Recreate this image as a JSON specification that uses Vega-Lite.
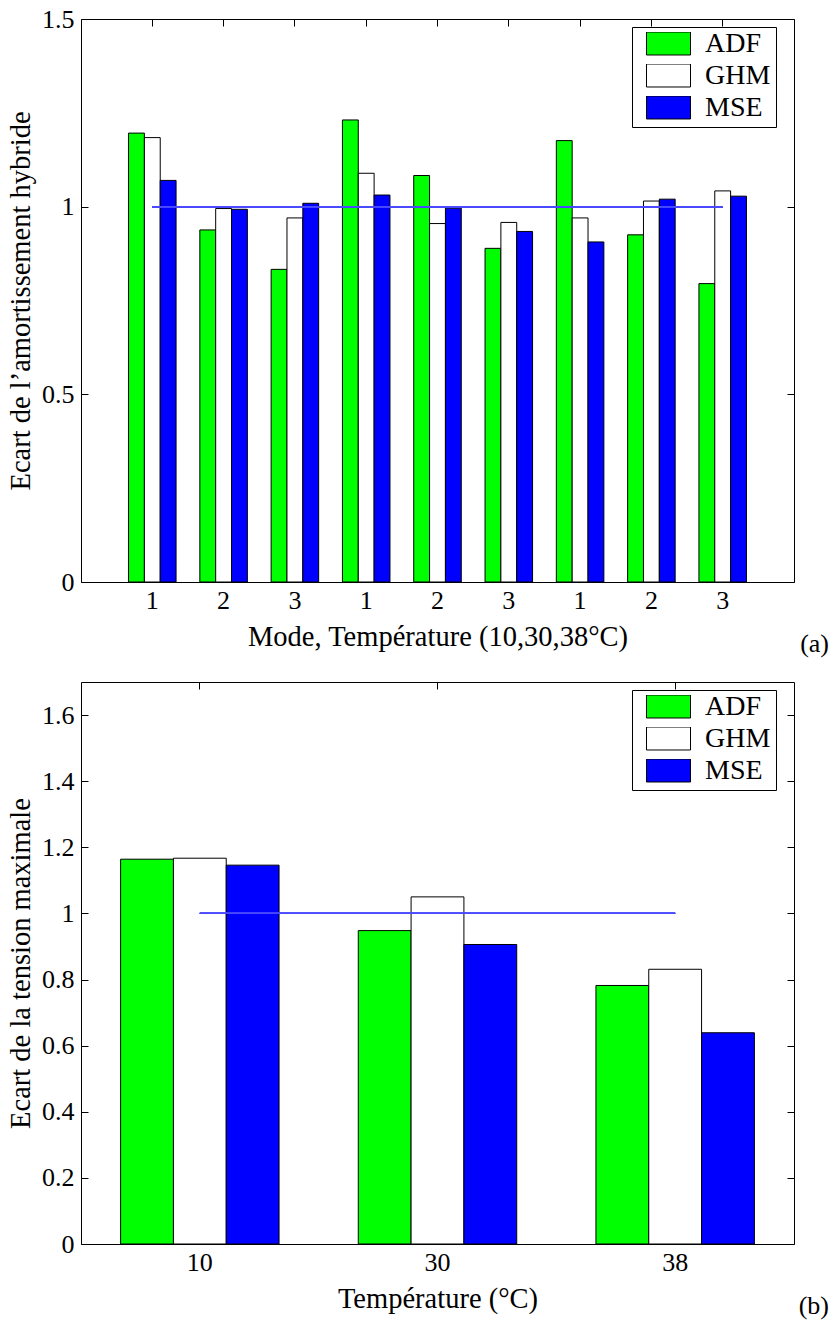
{
  "$schema": "https://vega.github.io/schema/vega-lite/v6.json",
  "background": "white",
  "padding": {"left": 6, "top": 5, "right": 0, "bottom": 0},
  "spacing": 23,
  "config": {
    "font": "Liberation Serif",
    "view": {"stroke": "black", "strokeWidth": 1},
    "axis": {
      "labelFont": "Liberation Serif", "labelFontSize": 26, "labelColor": "black",
      "titleFont": "Liberation Serif", "titleFontSize": 28.5, "titleFontWeight": "normal", "titleColor": "black",
      "domain": false, "grid": false, "tickColor": "black", "tickSize": -7, "tickWidth": 1,
      "labelPadding": 12.5, "titlePadding": 9
    },
    "axisY": {"labelPadding": 14, "titlePadding": 6},
    "legend": {
      "orient": "none", "legendX": 551, "legendY": 8, "padding": 5, "strokeColor": "black", "fillColor": "white",
      "symbolType": "M-1,-0.5227H1V0.5227H-1Z", "symbolSize": 1936, "symbolStrokeWidth": 1, "symbolStrokeColor": "black",
      "symbolOffset": 9, "labelFont": "Liberation Serif", "labelFontSize": 28, "labelColor": "black",
      "labelOffset": 14, "rowPadding": 3, "clipHeight": 23
    },
    "title": {"font": "Liberation Serif", "fontSize": 26, "fontWeight": "normal", "color": "black"}
  },
  "vconcat": [
    {
      "width": 713, "height": 563,
      "title": {"text": "(a)", "orient": "bottom", "anchor": "end", "frame": "group", "dx": 35, "offset": -20},
      "data": {"values": [
        {"g": 1, "method": "ADF", "value": 1.196}, {"g": 1, "method": "GHM", "value": 1.184}, {"g": 1, "method": "MSE", "value": 1.070},
        {"g": 2, "method": "ADF", "value": 0.938}, {"g": 2, "method": "GHM", "value": 0.995}, {"g": 2, "method": "MSE", "value": 0.993},
        {"g": 3, "method": "ADF", "value": 0.833}, {"g": 3, "method": "GHM", "value": 0.970}, {"g": 3, "method": "MSE", "value": 1.009},
        {"g": 4, "method": "ADF", "value": 1.231}, {"g": 4, "method": "GHM", "value": 1.089}, {"g": 4, "method": "MSE", "value": 1.031},
        {"g": 5, "method": "ADF", "value": 1.083}, {"g": 5, "method": "GHM", "value": 0.955}, {"g": 5, "method": "MSE", "value": 0.996},
        {"g": 6, "method": "ADF", "value": 0.889}, {"g": 6, "method": "GHM", "value": 0.958}, {"g": 6, "method": "MSE", "value": 0.934},
        {"g": 7, "method": "ADF", "value": 1.176}, {"g": 7, "method": "GHM", "value": 0.970}, {"g": 7, "method": "MSE", "value": 0.906},
        {"g": 8, "method": "ADF", "value": 0.925}, {"g": 8, "method": "GHM", "value": 1.015}, {"g": 8, "method": "MSE", "value": 1.020},
        {"g": 9, "method": "ADF", "value": 0.795}, {"g": 9, "method": "GHM", "value": 1.042}, {"g": 9, "method": "MSE", "value": 1.028}
      ]},
      "resolve": {"axis": {"x": "independent", "y": "independent"}},
      "layer": [
        {
          "mark": {"type": "bar", "stroke": "black", "strokeWidth": 1},
          "encoding": {
            "x": {"field": "g", "type": "ordinal", "scale": {"paddingInner": 0, "paddingOuter": 0.5},
                  "axis": {"labelAngle": 0, "labelExpr": "'' + ((datum.value - 1) % 3 + 1)", "title": "Mode, Température (10,30,38°C)"}},
            "xOffset": {"field": "method", "type": "nominal", "sort": ["ADF", "GHM", "MSE"], "scale": {"paddingInner": 0, "paddingOuter": 0.75}},
            "y": {"field": "value", "type": "quantitative", "scale": {"domain": [0, 1.5], "nice": false},
                  "axis": {"values": [0, 0.5, 1, 1.5], "format": "~g", "title": "Ecart de l’amortissement hybride"}},
            "fill": {"field": "method", "type": "nominal", "scale": {"domain": ["ADF", "GHM", "MSE"], "range": ["#00ff00", "#ffffff", "#0000ff"]},
                     "legend": {"title": null}}
          }
        },
        {
          "mark": {"type": "rule", "color": "#4a4aff", "strokeWidth": 1.2},
          "encoding": {
            "x": {"datum": 1, "type": "ordinal", "axis": null},
            "x2": {"datum": 9},
            "y": {"datum": 1, "type": "quantitative", "axis": null}
          }
        },
        {
          "mark": {"type": "point", "opacity": 0},
          "encoding": {
            "x": {"field": "g", "type": "ordinal", "axis": {"orient": "top", "labels": false, "title": null}},
            "y": {"field": "value", "type": "quantitative", "axis": {"orient": "right", "values": [0, 0.5, 1, 1.5], "labels": false, "title": null}}
          }
        }
      ]
    },
    {
      "width": 713, "height": 562,
      "title": {"text": "(b)", "orient": "bottom", "anchor": "end", "frame": "group", "dx": 35, "offset": -20},
      "data": {"values": [
        {"temp": 10, "method": "ADF", "value": 1.164}, {"temp": 10, "method": "GHM", "value": 1.167}, {"temp": 10, "method": "MSE", "value": 1.146},
        {"temp": 30, "method": "ADF", "value": 0.948}, {"temp": 30, "method": "GHM", "value": 1.050}, {"temp": 30, "method": "MSE", "value": 0.906},
        {"temp": 38, "method": "ADF", "value": 0.782}, {"temp": 38, "method": "GHM", "value": 0.831}, {"temp": 38, "method": "MSE", "value": 0.639}
      ]},
      "resolve": {"axis": {"x": "independent", "y": "independent"}},
      "layer": [
        {
          "mark": {"type": "bar", "stroke": "black", "strokeWidth": 1},
          "encoding": {
            "x": {"field": "temp", "type": "ordinal", "scale": {"paddingInner": 0, "paddingOuter": 0},
                  "axis": {"labelAngle": 0, "title": "Température (°C)"}},
            "xOffset": {"field": "method", "type": "nominal", "sort": ["ADF", "GHM", "MSE"], "scale": {"paddingInner": 0, "paddingOuter": 0.75}},
            "y": {"field": "value", "type": "quantitative", "scale": {"domain": [0, 1.7], "nice": false},
                  "axis": {"values": [0, 0.2, 0.4, 0.6, 0.8, 1, 1.2, 1.4, 1.6], "format": "~g", "title": "Ecart de la tension maximale"}},
            "fill": {"field": "method", "type": "nominal", "scale": {"domain": ["ADF", "GHM", "MSE"], "range": ["#00ff00", "#ffffff", "#0000ff"]},
                     "legend": {"title": null}}
          }
        },
        {
          "mark": {"type": "rule", "color": "#4a4aff", "strokeWidth": 1.2},
          "encoding": {
            "x": {"datum": 10, "type": "ordinal", "axis": null},
            "x2": {"datum": 38},
            "y": {"datum": 1, "type": "quantitative", "axis": null}
          }
        },
        {
          "mark": {"type": "point", "opacity": 0},
          "encoding": {
            "x": {"field": "temp", "type": "ordinal", "axis": {"orient": "top", "labels": false, "title": null}},
            "y": {"field": "value", "type": "quantitative", "axis": {"orient": "right", "values": [0, 0.2, 0.4, 0.6, 0.8, 1, 1.2, 1.4, 1.6], "labels": false, "title": null}}
          }
        }
      ]
    }
  ],
  "resolve": {"scale": {"fill": "independent", "xOffset": "independent"}}
}
